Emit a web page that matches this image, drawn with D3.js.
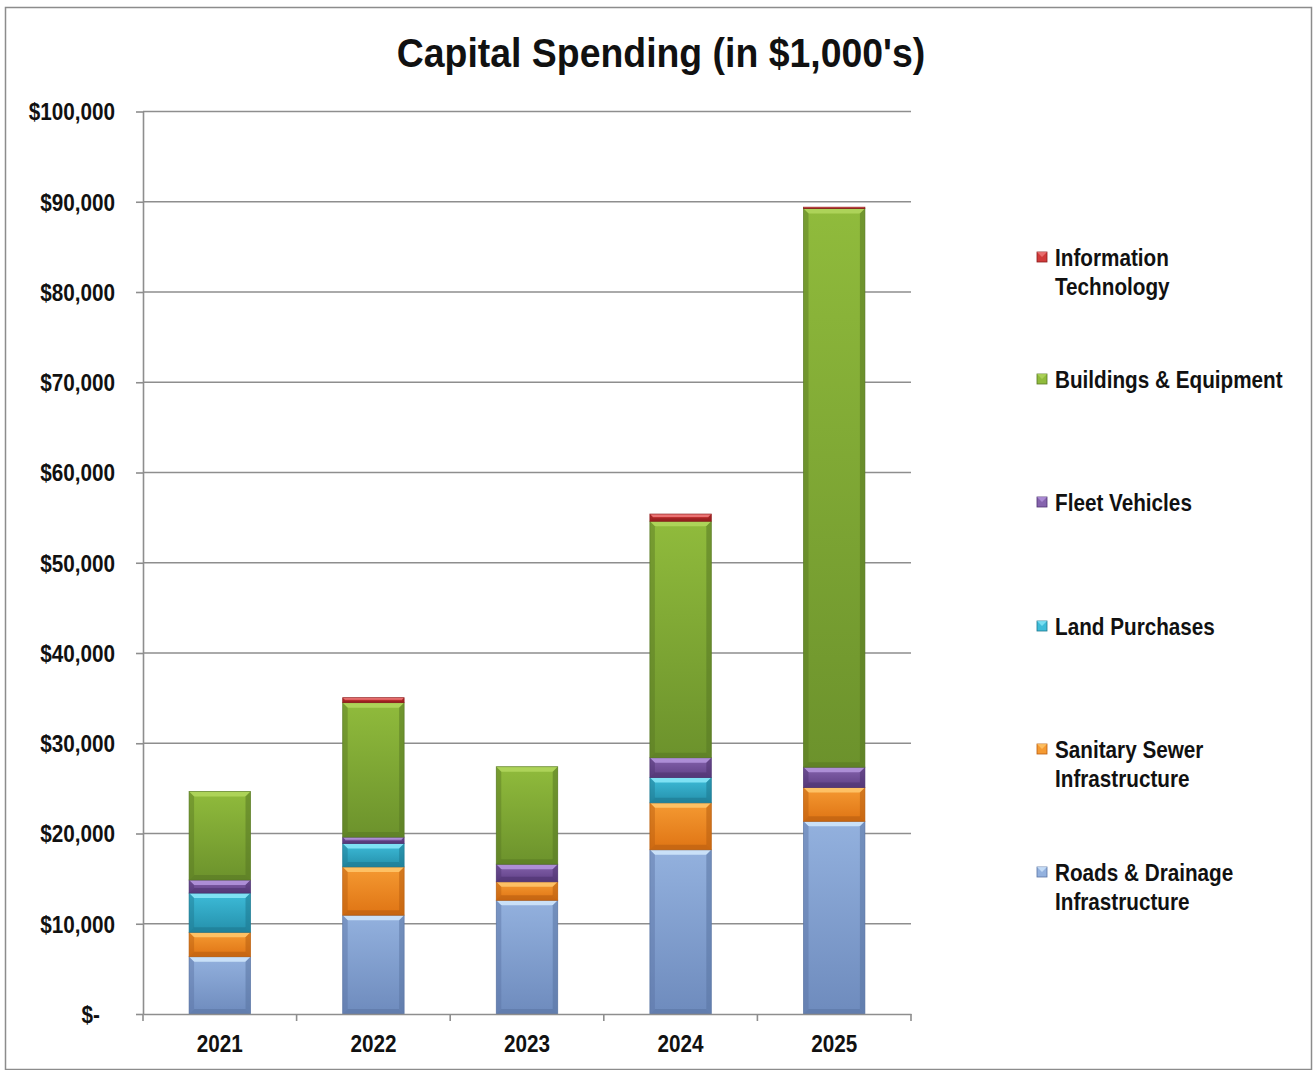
<!DOCTYPE html>
<html>
<head>
<meta charset="utf-8">
<script src="https://cdnjs.cloudflare.com/ajax/libs/d3/7.8.5/d3.min.js"></script>
<style>
  html, body { margin: 0; padding: 0; background: #fff; }
  svg { display: block; }
  .lbl { font-family: "Liberation Sans Narrow", "Arial Narrow", "Liberation Sans", Arial, sans-serif; font-weight: bold; fill: #111; }
</style>
</head>
<body>
<svg id="chart" width="1315" height="1070"></svg>
<script>
// Capital spending by year, in thousands of dollars
const years = ["2021", "2022", "2023", "2024", "2025"];
const seriesNames = [
  "Roads & Drainage Infrastructure",
  "Sanitary Sewer Infrastructure",
  "Land Purchases",
  "Fleet Vehicles",
  "Buildings & Equipment",
  "Information Technology"
];
const roads     = [6350, 10950, 12600, 18200, 21350];
const sewer     = [2700, 5350, 2050, 5200, 3750];
const land      = [4350, 2600, 0, 2800, 0];
const fleet     = [1450, 700, 1950, 2200, 2250];
const buildings = [9800, 14900, 10800, 26200, 61900];
const infoTech  = [0, 550, 0, 800, 150];
const yTicks = [0, 10000, 20000, 30000, 40000, 50000, 60000, 70000, 80000, 90000, 100000];

// legend lines (top to bottom)
const legendLines = [
  ["Information", "Technology"],
  ["Buildings & Equipment"],
  ["Fleet Vehicles"],
  ["Land Purchases"],
  ["Sanitary Sewer", "Infrastructure"],
  ["Roads & Drainage", "Infrastructure"]
];

// colour ramps: [highlight, top, bottom, edge]
const palette = [
  ["#cfe6fb", "#93b1de", "#6e8bbd", "#5a74a3"],
  ["#ffc56a", "#f59a32", "#df7414", "#b85e10"],
  ["#86e6f7", "#3dbcd9", "#2590ab", "#1e7890"],
  ["#b394dc", "#8563ad", "#5f3f85", "#4e3370"],
  ["#b0d65c", "#90bb3c", "#6c922c", "#587824"],
  ["#ee7a7a", "#d03a3a", "#a82424", "#8a1c1c"]
];

const seriesValues = [roads, sewer, land, fleet, buildings, infoTech];
const table = years.map((y, i) => {
  const row = { year: y };
  seriesNames.forEach((s, k) => row[s] = seriesValues[k][i]);
  return row;
});

// horizontal condensing for the bold narrow lettering
const SQ = 0.9;

const svg = d3.select("#chart");
const margin = { left: 143, right: 911, top: 111.5, bottom: 1014 };

// outer frame
svg.append("rect")
  .attr("x", 5.5).attr("y", 7.5).attr("width", 1306).attr("height", 1062)
  .attr("fill", "#fff").attr("stroke", "#8c8c8c").attr("stroke-width", 1.5);

const x = d3.scaleBand().domain(years).range([margin.left, margin.right]).paddingInner(0.6).paddingOuter(0.3);
const xCat = d3.scaleBand().domain(years).range([margin.left, margin.right]);
const y = d3.scaleLinear().domain([0, 100000]).range([margin.bottom, margin.top]);

// title
svg.append("text").attr("class", "lbl")
  .attr("transform", "translate(661,67) scale(0.935,1)")
  .attr("text-anchor", "middle")
  .style("font-size", "40px")
  .text("Capital Spending (in $1,000's)");

// gridlines
svg.append("g").selectAll("line").data(yTicks.slice(1)).join("line")
  .attr("x1", margin.left).attr("x2", margin.right)
  .attr("y1", d => y(d)).attr("y2", d => y(d))
  .attr("stroke", "#8e8e8e").attr("stroke-width", 1.6);

// y axis
const yAxis = d3.axisLeft(y).tickValues(yTicks).tickSize(7).tickSizeOuter(0)
  .tickFormat(d => d === 0 ? "$-" : "$" + d3.format(",")(d));
const gy = svg.append("g").attr("transform", `translate(${margin.left},0)`).call(yAxis);
gy.select(".domain").attr("stroke", "#8e8e8e").attr("stroke-width", 1.6);
gy.selectAll(".tick line").attr("stroke", "#8e8e8e").attr("stroke-width", 1.6);
gy.selectAll(".tick text").attr("class", "lbl")
  .attr("x", -28 / SQ).attr("dy", "0.36em")
  .attr("transform", `scale(${SQ},1)`)
  .style("font-size", "23px");
gy.selectAll(".tick text").filter(d => d === 0).attr("x", -43 / SQ);

// defs: gradients for bar shading
const defs = svg.append("defs");
palette.forEach((p, k) => {
  const g = defs.append("linearGradient").attr("id", "grad" + k)
    .attr("x1", 0).attr("y1", 0).attr("x2", 0).attr("y2", 1);
  g.append("stop").attr("offset", "0%").attr("stop-color", p[1]);
  g.append("stop").attr("offset", "100%").attr("stop-color", p[2]);
});

const stack = d3.stack().keys(seriesNames)(table);

const gBars = svg.append("g");
stack.forEach((layer, k) => {
  const p = palette[k];
  layer.forEach((d, i) => {
    if (d[1] - d[0] <= 0) return;
    const x0 = x(years[i]), w = x.bandwidth();
    const yTop = y(d[1]), yBot = y(d[0]);
    const h = yBot - yTop;
    const b = Math.min(5, h / 2.5);
    const g = gBars.append("g");
    g.append("rect").attr("x", x0).attr("y", yTop).attr("width", w).attr("height", h)
      .attr("fill", `url(#grad${k})`);
    // bevel: top highlight
    g.append("path")
      .attr("d", `M${x0},${yTop}L${x0 + w},${yTop}L${x0 + w - b},${yTop + b}L${x0 + b},${yTop + b}Z`)
      .attr("fill", p[0]).attr("opacity", 0.9);
    // bevel: side edges
    g.append("path")
      .attr("d", `M${x0},${yTop}L${x0 + b},${yTop + b}L${x0 + b},${yBot - b}L${x0},${yBot}Z`)
      .attr("fill", p[3]).attr("opacity", 0.45);
    g.append("path")
      .attr("d", `M${x0 + w},${yTop}L${x0 + w - b},${yTop + b}L${x0 + w - b},${yBot - b}L${x0 + w},${yBot}Z`)
      .attr("fill", p[3]).attr("opacity", 0.55);
    // bevel: bottom edge
    g.append("path")
      .attr("d", `M${x0},${yBot}L${x0 + b},${yBot - b}L${x0 + w - b},${yBot - b}L${x0 + w},${yBot}Z`)
      .attr("fill", p[3]).attr("opacity", 0.6);
    g.append("rect").attr("x", x0).attr("y", yTop).attr("width", w).attr("height", h)
      .attr("fill", "none").attr("stroke", p[3]).attr("stroke-width", 0.8).attr("opacity", 0.8);
  });
});

// x axis
const xAxis = d3.axisBottom(xCat).tickSize(0).tickSizeOuter(0);
const gx = svg.append("g").attr("transform", `translate(0,${margin.bottom})`).call(xAxis);
gx.select(".domain").attr("stroke", "#8e8e8e").attr("stroke-width", 1.6);
gx.selectAll(".tick text").attr("class", "lbl")
  .attr("y", 22).attr("dy", "0.71em")
  .attr("transform", `scale(${SQ},1)`)
  .style("font-size", "23px");
// category boundary ticks
svg.append("g").selectAll("line").data(years.concat(["end"])).join("line")
  .attr("x1", d => d === "end" ? margin.right : xCat(d))
  .attr("x2", d => d === "end" ? margin.right : xCat(d))
  .attr("y1", margin.bottom).attr("y2", margin.bottom + 7)
  .attr("stroke", "#8e8e8e").attr("stroke-width", 1.6);

// legend
const legendY = [258, 380, 503, 627, 750, 873];
const legendOrder = [5, 4, 3, 2, 1, 0];
const gLeg = svg.append("g");
legendOrder.forEach((k, j) => {
  const p = palette[k];
  const ly = legendY[j];
  gLeg.append("rect").attr("x", 1037).attr("y", ly - 6).attr("width", 10).attr("height", 10)
    .attr("fill", p[1]).attr("stroke", p[3]).attr("stroke-width", 0.8);
  gLeg.append("path")
    .attr("d", `M1037,${ly - 6}L1047,${ly - 6}L1042,${ly - 1}Z`).attr("fill", p[0]).attr("opacity", 0.8);
  const t = gLeg.append("text").attr("class", "lbl")
    .attr("transform", `translate(1055,${ly + 8}) scale(${SQ},1)`)
    .style("font-size", "23px");
  legendLines[j].forEach((line, n) => {
    t.append("tspan").attr("x", 0).attr("dy", n === 0 ? 0 : 29).text(line);
  });
});
</script>
</body>
</html>
